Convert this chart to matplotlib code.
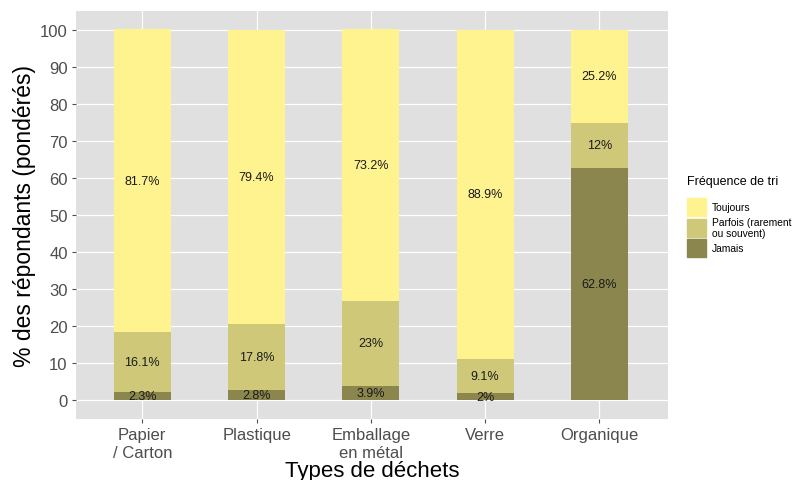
import matplotlib.pyplot as plt
import matplotlib.patches as mpatches
import numpy as np

plt.rcParams['font.family'] = ['Liberation Sans', 'DejaVu Sans']

categories = ["Papier\n/ Carton", "Plastique", "Emballage\nen métal", "Verre", "Organique"]
jamais = [2.3, 2.8, 3.9, 2.0, 62.8]
parfois = [16.1, 17.8, 23.0, 9.1, 12.0]
toujours = [81.7, 79.4, 73.2, 88.9, 25.2]
labels_jamais = ["2.3%", "2.8%", "3.9%", "2%", "62.8%"]
labels_parfois = ["16.1%", "17.8%", "23%", "9.1%", "12%"]
labels_toujours = ["81.7%", "79.4%", "73.2%", "88.9%", "25.2%"]

col_toujours = "#FFF38F"
col_parfois = "#CFC878"
col_jamais = "#8B864D"

fig = plt.figure(figsize=(7.99, 4.81), dpi=100)
ax = fig.add_axes([76 / 799, 61 / 481, 592 / 799, 408 / 481])
ax.set_facecolor("#E0E0E0")

x = np.arange(1, len(categories) + 1)
w = 0.5
j = np.array(jamais)
p = np.array(parfois)
t = np.array(toujours)
ax.bar(x, j, w, color=col_jamais, zorder=2)
ax.bar(x, p, w, bottom=j, color=col_parfois, zorder=2)
ax.bar(x, t, w, bottom=j + p, color=col_toujours, zorder=2)

for i in range(len(x)):
    ax.text(x[i], j[i] / 2, labels_jamais[i], ha="center", va="center", fontsize=9, color="#1a1a1a", zorder=3)
    ax.text(x[i], j[i] + p[i] / 2, labels_parfois[i], ha="center", va="center", fontsize=9, color="#1a1a1a", zorder=3)
    ax.text(x[i], j[i] + p[i] + t[i] / 2, labels_toujours[i], ha="center", va="center", fontsize=9, color="#1a1a1a", zorder=3)

ax.set_xlim(0.42, 5.6)
ax.set_ylim(-5, 105)
ax.set_yticks(np.arange(0, 101, 10))
ax.set_xticks(x)
ax.set_xticklabels(categories)
ax.grid(True, which="major", color="white", linewidth=0.9, zorder=0)
ax.set_axisbelow(True)
for s in ax.spines.values():
    s.set_visible(False)
ax.tick_params(axis="both", which="major", labelsize=12, colors="#4D4D4D", length=3, width=0.8, pad=3)
for lbl in ax.get_xticklabels() + ax.get_yticklabels():
    lbl.set_color("#4D4D4D")
ax.set_xlabel("Types de déchets", fontsize=16, labelpad=0)
ax.set_ylabel("% des répondants (pondérés)", fontsize=16.5, labelpad=3)

handles = [mpatches.Patch(color=col_toujours, label="Toujours"),
           mpatches.Patch(color=col_parfois, label="Parfois (rarement\nou souvent)"),
           mpatches.Patch(color=col_jamais, label="Jamais")]
leg = fig.legend(handles=handles, title="Fréquence de tri", loc="upper left",
                 bbox_to_anchor=(687 / 799, 1 - 176 / 481), frameon=False,
                 fontsize=7.4, title_fontsize=9, handlelength=1.8, handleheight=2.3,
                 handletextpad=0.6, labelspacing=0.05, borderaxespad=0, borderpad=0)
leg._legend_box.align = "left"
leg._legend_box.sep = 8

fig.savefig("out.png", dpi=100)
